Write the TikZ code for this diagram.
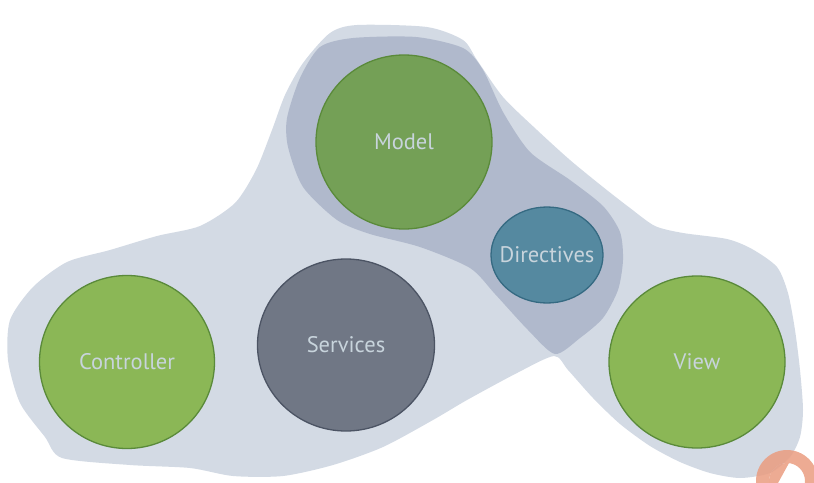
\documentclass[tikz,border=0pt]{standalone}
\usepackage{fontspec}
\setmainfont{PT Sans}
\usetikzlibrary{shapes.geometric}
\definecolor{outerblob}{HTML}{D3DAE4}
\definecolor{innerblob}{HTML}{B0B9CC}
\definecolor{modelgreen}{HTML}{74A056}
\definecolor{lightgreen}{HTML}{8BB756}
\definecolor{greenborder}{HTML}{5A8A3A}
\definecolor{servfill}{HTML}{707785}
\definecolor{servborder}{HTML}{4C5464}
\definecolor{dirfill}{HTML}{5589A0}
\definecolor{dirborder}{HTML}{356A82}
\definecolor{labeltext}{HTML}{C8D4DC}
\definecolor{orangering}{HTML}{EA9C80}
\tikzset{
  comp/.style={ellipse, inner sep=0pt, outer sep=0pt, line width=1.3pt,
    label={[text=labeltext, font=\fontsize{22.5}{27}\selectfont, inner sep=0pt]center:#1}},
  greencomp/.style={comp=#1, fill=lightgreen, draw=greenborder},
}
\begin{document}
\begin{tikzpicture}[x=1pt, y=-1pt]
\useasboundingbox (0,0) rectangle (814,482);
\clip (0,0) rectangle (814,482);
% outer blob
\fill[outerblob] plot[smooth cycle, tension=0.45] coordinates {
 (303,63) (330,33) (357,25) (427,27) (463,40) (477,60) (503,97) (537,130)
 (570,160) (603,187) (630,208) (655,226) (683,233) (727,239) (752,249)
 (777,267) (788,293) (795,330) (800,370) (803,410) (800,437) (790,457)
 (770,473) (740,478) (710,473) (680,462) (650,446) (620,424) (593,398)
 (568,370) (554,356) (517,373) (467,400) (433,420) (383,447) (333,465)
 (283,476) (233,476) (190,468) (130,465) (62,458) (45,437) (20,403)
 (8,360) (10,320) (33,287) (67,262) (110,250) (157,236) (200,226)
 (235,203) (256,170) (272,130) (285,95)};
% inner blob
\fill[innerblob] plot[smooth cycle, tension=0.45] coordinates {
 (320,47) (353,38) (416,37) (463,48) (483,70) (503,112) (530,152)
 (570,180) (603,206) (620,232) (623,260) (618,290) (603,318) (580,338)
 (555,354) (528,330) (495,294) (470,268) (420,247) (370,234) (337,220)
 (303,187) (288,147) (287,118) (300,78)};
% components
\node[comp=Model, fill=modelgreen, draw=greenborder, minimum width=176pt, minimum height=174pt]
  (model) at (404,142) {};
\node[comp=Directives, fill=dirfill, draw=dirborder, minimum width=112pt, minimum height=96pt]
  (directives) at (547,255) {};
\node[comp=Services, fill=servfill, draw=servborder, minimum width=177pt, minimum height=172pt]
  (services) at (346,345) {};
\node[greencomp=Controller, minimum width=175pt, minimum height=173pt]
  (controller) at (127,362) {};
\node[greencomp=View, minimum width=176pt, minimum height=172pt]
  (view) at (697,362) {};
% orange play badge (partially visible)
\fill[orangering, opacity=0.85, even odd rule] (787,481) circle[radius=31] (787,481) circle[radius=18];
\begin{scope}
  \clip (787,481) circle[radius=18];
  \fill[orangering, opacity=0.85] (765,490) -- (778,483) -- (789,463) -- (765,463) -- cycle;
\end{scope}
\end{tikzpicture}
\end{document}
